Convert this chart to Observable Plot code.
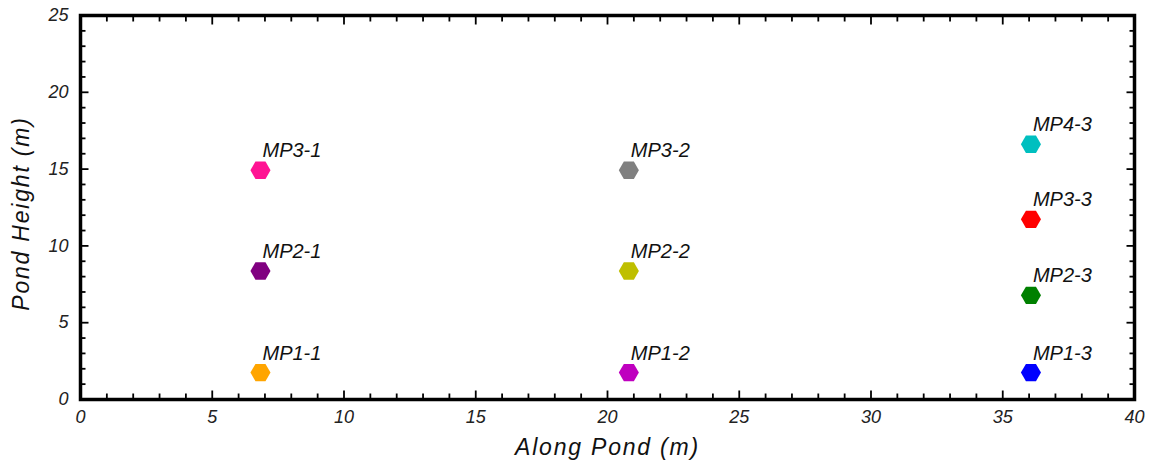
<!DOCTYPE html>
<html><head><meta charset="utf-8">
<script src="https://cdn.jsdelivr.net/npm/d3@7"></script>
<script src="https://cdn.jsdelivr.net/npm/@observablehq/plot@0.6"></script>
<style>
body{margin:0;background:#fff;color:#000;}
svg text{font-family:"Liberation Sans",Arial,sans-serif;font-style:italic;}
</style></head><body><div id="chart"></div>
<script>
const names  = ["MP1-1","MP2-1","MP3-1","MP1-2","MP2-2","MP3-2","MP1-3","MP2-3","MP3-3","MP4-3"];
const along  = [6.83, 6.83, 6.83, 20.81, 20.81, 20.81, 36.07, 36.07, 36.07, 36.07];
const heightM = [1.75, 8.37, 14.93, 1.75, 8.37, 14.93, 1.75, 6.78, 11.73, 16.62];
const colors = ["#FFA500","#800080","#FF1493","#BF00BF","#BFBF00","#808080","#0000FF","#008000","#FF0000","#00BFBF"];
const xMajor = [0, 5, 10, 15, 20, 25, 30, 35, 40];
const yMajor = [0, 5, 10, 15, 20, 25];
const xMinor = [1,2,3,4,6,7,8,9,11,12,13,14,16,17,18,19,21,22,23,24,26,27,28,29,31,32,33,34,36,37,38,39];
const yMinor = [1,2,3,4,6,7,8,9,11,12,13,14,16,17,18,19,21,22,23,24];
const xTitle = "Along Pond (m)";
const yTitle = "Pond Height (m)";

const data = names.map((n, i) => ({name: n, x: along[i], y: heightM[i]}));

const tickW = 1.8;
const tk = (extra) => Object.assign({text: null, label: null, strokeWidth: tickW}, extra);
const chart = Plot.plot({
  width: 1153, height: 465,
  marginLeft: 80, marginRight: 19, marginTop: 15, marginBottom: 66,
  x: {domain: [0, 40], axis: null},
  y: {domain: [0, 25], axis: null},
  color: {domain: names, range: colors},
  marks: [
    Plot.axisX(xMajor, tk({anchor: "bottom", tickSize: -8.5})),
    Plot.axisX(xMinor, tk({anchor: "bottom", tickSize: -5.5})),
    Plot.axisX(xMajor, tk({anchor: "top", tickSize: -8.5})),
    Plot.axisX(xMinor, tk({anchor: "top", tickSize: -5.5})),
    Plot.axisY(yMajor, tk({anchor: "left", tickSize: -8.5})),
    Plot.axisY(yMinor, tk({anchor: "left", tickSize: -5.5})),
    Plot.axisY(yMajor, tk({anchor: "right", tickSize: -8.5})),
    Plot.axisY(yMinor, tk({anchor: "right", tickSize: -5.5})),
    Plot.axisX(xMajor, {anchor: "bottom", tickSize: 0, tickPadding: 11, fontSize: 18, label: null, fill: "#222"}),
    Plot.axisY(yMajor, {anchor: "left", tickSize: 0, tickPadding: 12, fontSize: 18, label: null, fill: "#222"}),
    Plot.frame({stroke: "#000", strokeWidth: 3.5}),
    Plot.dot(data, {x: "x", y: "y", fill: "name", symbol: "hexagon", r: 8.7, rotate: 90}),
    Plot.text(data, {x: "x", y: "y", text: "name", textAnchor: "start", lineAnchor: "bottom", dx: 2, dy: -13, fontSize: 20, fill: "#111"}),
    Plot.text([xTitle], {text: d => d, frameAnchor: "bottom", dy: 48, textAnchor: "middle", lineAnchor: "middle", fontSize: 23, fill: "#111"}),
    Plot.text([yTitle], {text: d => d, frameAnchor: "left", dx: -59, dy: 6, rotate: -90, textAnchor: "middle", lineAnchor: "middle", fontSize: 23, fill: "#111"})
  ]
});
d3.select(chart).selectAll("text").filter(function(){ return this.textContent === xTitle || this.textContent === yTitle; }).attr("letter-spacing", "1.8");
document.getElementById("chart").appendChild(chart);
</script></body></html>
